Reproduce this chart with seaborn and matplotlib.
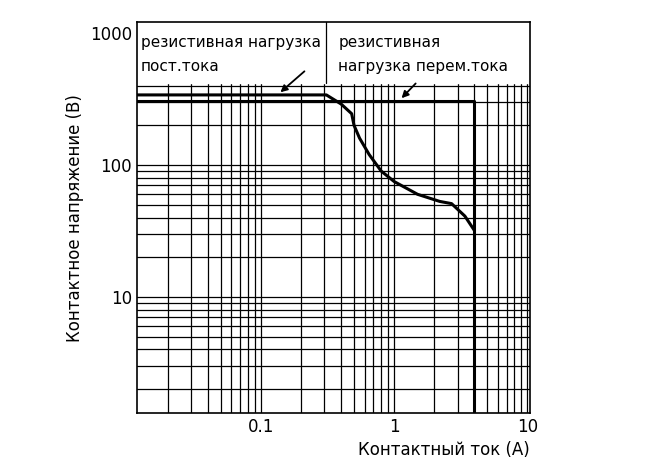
import matplotlib
matplotlib.use("Agg")
import matplotlib.pyplot as plt
import seaborn as sns
import numpy as np
from matplotlib.ticker import NullFormatter, LogLocator

sns.set_style("white")
plt.rcParams['font.family'] = ['DejaVu Sans']

dc_x = [0.0117, 0.31, 0.40, 0.48, 0.50, 0.55, 0.65, 0.80, 1.0, 1.5, 2.2, 2.7, 3.4, 4.0]
dc_y = [340, 340, 290, 245, 200, 160, 120, 90, 75, 60, 53, 51, 41, 32]
ac_x = [0.0117, 4.0, 4.0]
ac_y = [305, 305, 1.32]
xticks = [0.1, 1, 10]
xticklabels = ["0.1", "1", "10"]
yticks = [10, 100, 1000]
yticklabels = ["10", "100", "1000"]

fig = plt.figure(figsize=(6.61, 4.72), dpi=100)
ax = fig.add_axes([0.207, 0.125, 0.595, 0.828])
ax.set_xscale("log"); ax.set_yscale("log")
ax.set_xlim(0.0117, 10.5); ax.set_ylim(1.32, 1210)
ax.xaxis.set_minor_locator(LogLocator(subs=np.arange(2, 10)))
ax.yaxis.set_minor_locator(LogLocator(subs=np.arange(2, 10)))
ax.xaxis.set_minor_formatter(NullFormatter()); ax.yaxis.set_minor_formatter(NullFormatter())
ax.grid(True, which="both", color="black", lw=0.9)
ax.set_axisbelow(True)
ax.set_xticks(xticks); ax.set_xticklabels(xticklabels, fontsize=12, color="black")
ax.set_yticks(yticks); ax.set_yticklabels(yticklabels, fontsize=12, color="black")
ax.tick_params(length=0)
for s in ax.spines.values():
    s.set_color("black"); s.set_linewidth(1.2)
ax.axhspan(415, 1210, color="white", zorder=1.5)
ax.plot([0.31, 0.31], [415, 1210], color="black", lw=0.9, zorder=1.6)
sns.lineplot(x=dc_x, y=dc_y, ax=ax, color="black", lw=2.2, sort=False, estimator=None, zorder=3)
sns.lineplot(x=ac_x, y=ac_y, ax=ax, color="black", lw=2.2, sort=False, estimator=None, zorder=3)
kw = dict(fontsize=11, va="center", zorder=4, color="black")
ax.text(0.0125, 850, "резистивная нагрузка", **kw)
ax.text(0.0125, 560, "пост.тока", **kw)
ax.text(0.38, 850, "резистивная", **kw)
ax.text(0.38, 560, "нагрузка перем.тока", **kw)
ax.annotate("", xy=(0.135, 345), xytext=(0.22, 530),
            arrowprops=dict(arrowstyle="-|>", color="black", lw=1.3), zorder=4)
ax.annotate("", xy=(1.1, 310), xytext=(1.5, 430),
            arrowprops=dict(arrowstyle="-|>", color="black", lw=1.3), zorder=4)
ax.set_xlabel("Контактный ток (A)", fontsize=12, loc="right", color="black")
ax.set_ylabel("Контактное напряжение (B)", fontsize=12, color="black")
fig.savefig("out.png", dpi=100)
